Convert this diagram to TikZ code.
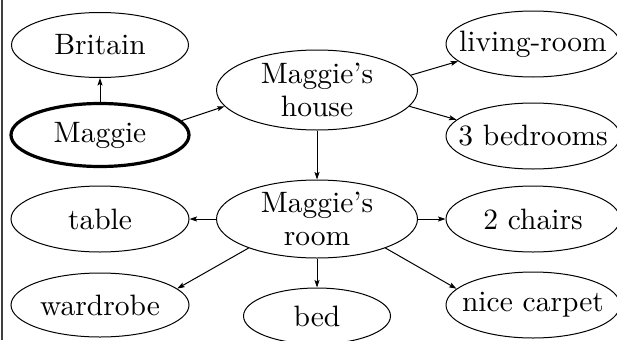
\documentclass[tikz,border=0pt]{standalone}
\usetikzlibrary{shapes.geometric,arrows.meta}
\usepackage{graphicx}
\newcommand{\tx}[1]{\scalebox{2.95}{#1}}
\newcommand{\txtwo}[2]{\scalebox{2.95}{\vbox{\baselineskip=11.3pt\halign{\hfil##\hfil\cr #1\cr #2\cr}}}}
\begin{document}
\begin{tikzpicture}[x=1pt,y=-1pt,
  ell/.style={ellipse,draw,line width=1pt,inner xsep=-40pt,inner ysep=-6pt},
  wide/.style={minimum width=#1pt},
  high/.style={minimum height=#1pt},
  thickell/.style={line width=3.2pt},
  conn/.style={line width=1pt,-{Stealth[length=7.5pt,width=5pt,inset=1.5pt]}}]
\useasboundingbox (0,0) rectangle (617,340);
\clip (0,0) rectangle (617,340);
\fill[white] (0,0) rectangle (617,340);
\draw[line width=2pt,black!75] (1.5,0) -- (1.5,340);
\node[ell,wide=177,high=65] (britain) at (100,45) {\tx{Britain}};
\node[ell,thickell,wide=178,high=63] (maggie) at (100,135) {\tx{Maggie}};
\node[ell,wide=201,high=80] (house) at (317,90) {\txtwo{Maggie's}{house}};
\node[ell,wide=174,high=66] (living) at (533,44) {\tx{living-room}};
\node[ell,wide=174,high=66] (bedrooms) at (533,136) {\tx{3 bedrooms}};
\node[ell,wide=201,high=78] (room) at (317,219) {\txtwo{Maggie's}{room}};
\node[ell,wide=178,high=66] (table) at (100,219) {\tx{table}};
\node[ell,wide=174,high=66] (chairs) at (533,219) {\tx{2 chairs}};
\node[ell,wide=178,high=64] (wardrobe) at (100,305) {\tx{wardrobe}};
\node[ell,wide=147,high=56] (bed) at (317,316) {\tx{bed}};
\node[ell,wide=174,high=66] (carpet) at (533,305) {\tx{nice carpet}};
\draw[conn] (maggie.north) -- (britain.south);
\draw[conn] (maggie.10) -- (house.190);
\draw[conn] (house.9) -- (living.193);
\draw[conn] (house.-10) -- (bedrooms.168);
\draw[conn] (house.south) -- (room.north);
\draw[conn] (room.west) -- (table.east);
\draw[conn] (room.east) -- (chairs.west);
\draw[conn] (room.203) -- (wardrobe.12);
\draw[conn] (room.south) -- (bed.north);
\draw[conn] (room.-23) -- (carpet.168);
\end{tikzpicture}
\end{document}
